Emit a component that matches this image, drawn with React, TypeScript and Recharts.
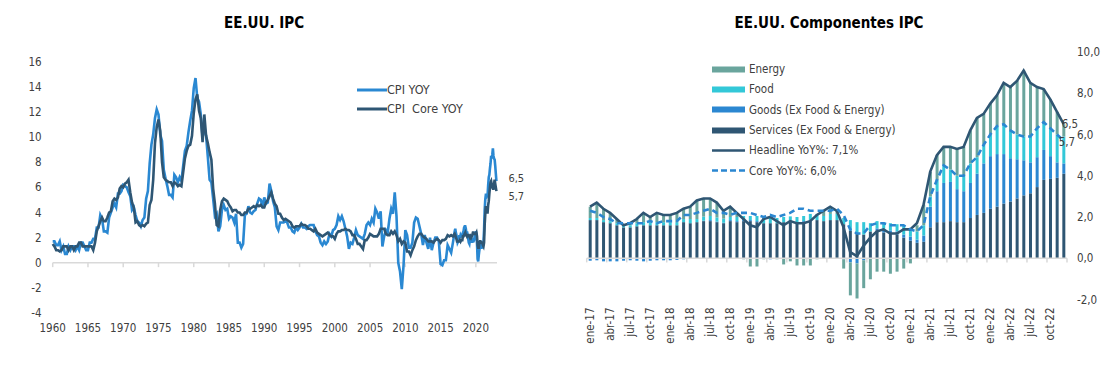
import React from "react";
import {
  ComposedChart,
  LineChart,
  Line,
  Bar,
  XAxis,
  YAxis,
  ReferenceLine,
  Legend,
  LabelList,
} from "recharts";

const FONT = '"DejaVu Sans Condensed", "DejaVu Sans", sans-serif';
const INK = "#404040";
const GRID = "#d9d9d9";

// ---- left chart: CPI YoY since 1960 (quarterly: Jan, Apr, Jul, Oct) ----
const cpiYoyQuarterly = [
  1.7, 1.7, 1.4, 1.4, 1.7, 1.0, 1.3, 0.7, 0.7, 1.3, 1.0, 1.3, 1.3, 1.0, 1.3, 1.0,
  1.6, 1.6, 1.3, 1.0, 1.0, 1.6, 1.6, 1.9, 1.9, 2.8, 2.8, 3.8, 3.5, 2.5, 2.5, 2.4,
  3.6, 4.0, 4.4, 4.7, 4.4, 5.5, 5.5, 5.7, 6.2, 6.1, 6.0, 5.6, 5.3, 4.2, 4.4, 3.8,
  3.3, 3.2, 2.9, 3.4, 3.6, 5.1, 5.7, 7.9, 9.4, 10.2, 11.5, 12.2, 11.8, 10.2, 9.7, 7.4,
  6.7, 6.1, 5.4, 5.4, 5.2, 7.0, 6.8, 6.4, 6.8, 6.5, 7.7, 8.9, 9.3, 10.4, 11.3, 12.1,
  13.9, 14.7, 13.1, 12.8, 11.8, 10.0, 10.8, 10.1, 8.4, 6.6, 6.4, 5.1, 3.7, 3.9, 2.5, 2.9,
  4.2, 4.6, 4.2, 4.3, 3.5, 3.7, 3.6, 3.2, 3.9, 1.6, 1.6, 1.2, 1.5, 3.8, 3.9, 4.5,
  4.0, 3.9, 4.1, 4.2, 4.7, 5.1, 5.0, 4.5, 5.2, 4.7, 4.8, 6.3, 5.7, 4.9, 4.4, 2.9,
  2.6, 3.2, 3.2, 3.2, 3.3, 3.2, 2.8, 2.8, 2.5, 2.4, 2.8, 2.6, 2.8, 3.1, 2.8, 2.8,
  2.7, 2.9, 3.0, 3.0, 3.0, 2.5, 2.2, 2.1, 1.6, 1.4, 1.7, 1.5, 1.7, 2.3, 2.1, 2.6,
  2.7, 3.0, 3.7, 3.4, 3.7, 3.3, 2.7, 2.1, 1.1, 1.6, 1.5, 2.0, 2.6, 2.2, 2.1, 2.0,
  1.9, 2.3, 3.0, 3.2, 3.0, 3.5, 3.2, 4.3, 4.0, 3.5, 4.1, 1.3, 2.1, 2.6, 2.4, 3.5,
  4.3, 3.9, 5.6, 3.7, 0.0, -0.7, -2.1, -0.2, 2.6, 2.2, 1.2, 1.2, 1.6, 3.2, 3.6, 3.5,
  2.9, 2.3, 1.4, 2.2, 1.6, 1.1, 2.0, 1.0, 1.6, 2.0, 2.0, 1.7, -0.1, -0.2, 0.2, 0.2,
  1.4, 1.1, 0.8, 1.6,
];
const coreYoyQuarterly = [
  1.5, 1.3, 1.0, 1.0, 0.9, 1.0, 1.3, 1.3, 1.3, 1.0, 1.3, 1.3, 1.0, 1.3, 1.3, 1.6,
  1.6, 1.3, 1.3, 1.3, 1.3, 1.3, 1.3, 1.0, 1.6, 2.5, 2.9, 3.3, 3.6, 3.3, 3.3, 3.6,
  4.0, 4.1, 4.9, 5.1, 5.0, 5.2, 5.9, 6.1, 6.0, 6.3, 6.4, 6.6, 5.6, 4.8, 4.4, 3.2,
  3.3, 3.0, 2.9, 3.0, 2.9, 3.1, 3.2, 4.6, 5.0, 6.6, 9.5, 10.8, 11.4, 10.5, 8.0, 6.8,
  6.6, 6.5, 6.4, 6.4, 6.1, 6.4, 6.3, 6.1, 6.2, 6.1, 7.2, 8.3, 8.9, 9.3, 9.4, 10.1,
  11.9, 13.0, 13.4, 12.1, 11.5, 9.6, 11.8, 10.1, 9.5, 8.8, 8.2, 5.9, 4.7, 3.0, 2.9, 4.2,
  4.9, 5.1, 5.0, 4.9, 4.6, 4.4, 4.1, 4.2, 4.2, 4.0, 4.0, 3.8, 3.8, 4.0, 4.0, 4.3,
  4.3, 4.4, 4.5, 4.4, 4.6, 4.5, 4.6, 4.4, 4.4, 4.8, 5.0, 5.3, 5.6, 5.1, 4.7, 4.5,
  3.9, 3.9, 3.6, 3.4, 3.5, 3.4, 3.3, 3.2, 2.9, 2.8, 2.9, 2.9, 2.9, 3.1, 3.0, 3.0,
  2.9, 2.7, 2.7, 2.6, 2.5, 2.7, 2.4, 2.3, 2.2, 2.1, 2.2, 2.3, 2.4, 2.2, 2.1, 2.1,
  1.9, 2.3, 2.5, 2.5, 2.6, 2.6, 2.7, 2.6, 2.6, 2.5, 2.2, 2.2, 1.9, 1.5, 1.5, 1.3,
  1.1, 1.8, 1.8, 2.0, 2.3, 2.2, 2.1, 2.1, 2.1, 2.3, 2.7, 2.7, 2.7, 2.3, 2.2, 2.2,
  2.5, 2.3, 2.5, 2.2, 1.7, 1.9, 1.5, 1.7, 1.6, 0.9, 0.9, 0.6, 1.0, 1.3, 1.8, 2.1,
  2.3, 2.3, 2.1, 2.0, 1.9, 1.7, 1.7, 1.7, 1.6, 1.8, 1.9, 1.8, 1.6, 1.8, 1.8, 1.9,
  2.2, 2.1, 2.2, 2.1,
];
const yearTicks = [1960, 1965, 1970, 1975, 1980, 1985, 1990, 1995, 2000, 2005, 2010, 2015, 2020];
const leftYTicks = [-4, -2, 0, 2, 4, 6, 8, 10, 12, 14, 16];

// ---- right chart: monthly, ene-17 .. dic-22 ----
const monthNames = ["ene", "feb", "mar", "abr", "may", "jun", "jul", "ago", "sep", "oct", "nov", "dic"];
const yearSuffix = ["17", "18", "19", "20", "21", "22"];

const headlineYoy = [
  2.5, 2.7, 2.4, 2.2, 1.9, 1.6, 1.7, 1.9, 2.2, 2.0, 2.2, 2.1,
  2.1, 2.2, 2.4, 2.5, 2.8, 2.9, 2.9, 2.7, 2.3, 2.5, 2.2, 1.9,
  1.6, 1.5, 1.9, 2.0, 1.8, 1.6, 1.8, 1.7, 1.7, 1.8, 2.1, 2.3,
  2.5, 2.3, 1.5, 0.3, 0.1, 0.6, 1.0, 1.3, 1.4, 1.2, 1.2, 1.4,
  1.4, 1.7, 2.6, 4.2, 5.0, 5.4, 5.4, 5.3, 5.4, 6.2, 6.8, 7.0,
  7.5, 7.9, 8.5, 8.3, 8.6, 9.1, 8.5, 8.3, 8.2, 7.7, 7.1, 6.5,
];
const coreYoy = [
  2.3, 2.2, 2.0, 1.9, 1.7, 1.7, 1.7, 1.7, 1.7, 1.8, 1.7, 1.8,
  1.8, 1.8, 2.1, 2.1, 2.2, 2.3, 2.4, 2.2, 2.2, 2.1, 2.2, 2.2,
  2.2, 2.1, 2.0, 2.1, 2.0, 2.1, 2.2, 2.4, 2.4, 2.3, 2.3, 2.3,
  2.3, 2.4, 2.1, 1.4, 1.2, 1.2, 1.6, 1.7, 1.7, 1.6, 1.6, 1.6,
  1.4, 1.3, 1.6, 3.0, 3.8, 4.5, 4.3, 4.0, 4.0, 4.6, 4.9, 5.5,
  6.0, 6.4, 6.5, 6.2, 6.0, 5.9, 5.9, 6.3, 6.6, 6.3, 6.0, 5.7,
];
const servicesContrib = [
  1.85, 1.85, 1.75, 1.7, 1.6, 1.5, 1.5, 1.55, 1.6, 1.6, 1.6, 1.6,
  1.6, 1.6, 1.75, 1.7, 1.75, 1.8, 1.8, 1.75, 1.7, 1.8, 1.75, 1.8,
  1.8, 1.75, 1.7, 1.7, 1.7, 1.75, 1.75, 1.7, 1.75, 1.8, 1.85, 1.8,
  1.85, 1.85, 1.65, 1.35, 1.2, 1.15, 1.3, 1.35, 1.25, 1.2, 1.15, 1.0,
  0.85, 0.75, 0.8, 1.5, 1.75, 1.75, 1.8, 1.75, 1.75, 1.95, 2.1, 2.2,
  2.4, 2.5, 2.65, 2.75, 2.9, 3.05, 3.15, 3.45, 3.8, 3.85, 3.9, 4.1,
];
const goodsContrib = [
  -0.12, -0.1, -0.15, -0.15, -0.15, -0.12, -0.1, -0.12, -0.15, -0.12, -0.1, -0.1,
  -0.1, -0.08, -0.05, -0.02, 0.0, 0.02, 0.05, 0.03, 0.02, 0.05, 0.05, 0.05,
  0.05, 0.05, 0.0, -0.05, 0.0, 0.0, 0.03, 0.05, 0.05, 0.05, 0.0, -0.02,
  -0.03, -0.02, -0.05, -0.2, -0.25, -0.1, -0.02, 0.1, 0.15, 0.15, 0.15, 0.15,
  0.2, 0.15, 0.3, 1.0, 1.5, 1.9, 1.9, 1.6, 1.5, 1.7, 2.0, 2.4,
  2.55, 2.55, 2.4, 2.1, 1.9, 1.7, 1.5, 1.45, 1.45, 1.1, 0.75, 0.5,
];
const foodContrib = [
  0.1, 0.1, 0.1, 0.1, 0.1, 0.1, 0.1, 0.15, 0.15, 0.15, 0.15, 0.15,
  0.15, 0.15, 0.15, 0.2, 0.15, 0.2, 0.2, 0.2, 0.2, 0.15, 0.2, 0.2,
  0.2, 0.25, 0.25, 0.25, 0.25, 0.25, 0.25, 0.25, 0.25, 0.3, 0.3, 0.25,
  0.3, 0.3, 0.3, 0.5, 0.55, 0.6, 0.4, 0.35, 0.35, 0.35, 0.35, 0.45,
  0.35, 0.4, 0.5, 0.5, 0.55, 0.85, 0.6, 0.65, 0.75, 0.95, 0.8, 0.9,
  1.05, 1.35, 1.45, 1.35, 1.2, 1.15, 1.25, 1.4, 1.35, 1.35, 1.35, 1.3,
];
const energyContrib = [
  0.55, 0.75, 0.55, 0.4, 0.2, 0.05, 0.1, 0.2, 0.45, 0.25, 0.45, 0.35,
  0.35, 0.45, 0.5, 0.6, 0.9, 0.9, 0.85, 0.7, 0.4, 0.5, 0.2, -0.05,
  -0.4, -0.4, -0.05, 0.1, -0.05, -0.3, -0.15, -0.35, -0.35, -0.35, -0.05, 0.25,
  0.35, 0.15, -0.45, -1.6, -1.7, -1.35, -1.0, -0.65, -0.65, -0.75, -0.65, -0.5,
  -0.25, 0.3, 1.0, 1.2, 1.2, 0.9, 1.1, 1.3, 1.4, 1.6, 1.9, 1.5,
  1.5, 1.5, 2.0, 2.1, 2.6, 3.2, 2.6, 2.0, 1.6, 1.4, 1.1, 0.6,
];
const monthTickIdx = [0, 3, 6, 9, 12, 15, 18, 21, 24, 27, 30, 33, 36, 39, 42, 45, 48, 51, 54, 57, 60, 63, 66, 69];
const rightYTicks = [-2, 0, 2, 4, 6, 8, 10];

const monthLabels = yearSuffix.flatMap((yy) => monthNames.map((m) => `${m}-${yy}`));

const longData = [
  ...cpiYoyQuarterly.map((v, k) => ({ x: 1960 + k / 4, cpi: v, core: coreYoyQuarterly[k] })),
  ...headlineYoy.map((v, m) => ({ x: 2017 + m / 12, cpi: v, core: coreYoy[m] })),
];

const compData = headlineYoy.map((v, i) => ({
  i,
  services: servicesContrib[i],
  goods: goodsContrib[i],
  food: foodContrib[i],
  energy: energyContrib[i],
  headline: v,
  core: coreYoy[i],
}));

const C = {
  cpi: "#2a88d2",
  coreDark: "#2e5674",
  energy: "#6aa59d",
  food: "#33c8d8",
  goods: "#2b87d1",
  services: "#2f5673",
};

const leftLegend = [
  { name: "CPI YOY", color: C.cpi },
  { name: "CPI  Core YOY", color: C.coreDark },
];
const rightLegend = [
  { name: "Energy", color: C.energy, kind: "rect" },
  { name: "Food", color: C.food, kind: "rect" },
  { name: "Goods (Ex Food & Energy)", color: C.goods, kind: "rect" },
  { name: "Services (Ex Food & Energy)", color: C.services, kind: "rect" },
  { name: "Headline YoY%: 7,1%", color: C.services, kind: "line" },
  { name: "Core YoY%: 6,0%", color: C.goods, kind: "dash" },
];

const comma = (v: number) => v.toFixed(1).replace(".", ",");

const endLabel = (total: number, dx: number, dy: number, size = 11.5) => (props: any) => {
  const { x, y, value, index } = props;
  if (index !== total - 1) return null;
  return (
    <text x={x + dx} y={y + dy} fill={INK} fontSize={size} fontFamily={FONT}>
      {comma(Number(value))}
    </text>
  );
};

const MonthTick = (props: any) => {
  const { x, y, payload } = props;
  return (
    <g transform={`translate(${x},${y})`}>
      <text transform="rotate(-90)" textAnchor="end" dy="0.35em" fill={INK} fontSize={11.5} fontFamily={FONT}>
        {monthLabels[payload.value]}
      </text>
    </g>
  );
};

function LeftLegendBox() {
  return (
    <div style={{ fontFamily: FONT, fontSize: 12.5, color: INK }}>
      {leftLegend.map((it) => (
        <div key={it.name} style={{ display: "flex", alignItems: "center", height: 19 }}>
          <svg width={30} height={6}>
            <line x1={0} x2={30} y1={3} y2={3} stroke={it.color} strokeWidth={3} />
          </svg>
          <span style={{ whiteSpace: "pre" }}>{it.name}</span>
        </div>
      ))}
    </div>
  );
}

function RightLegendBox() {
  return (
    <div style={{ fontFamily: FONT, fontSize: 11.5, color: INK }}>
      {rightLegend.map((it) => (
        <div key={it.name} style={{ display: "flex", alignItems: "center", height: 20.3 }}>
          <svg width={37} height={7}>
            {it.kind === "rect" ? (
              <rect x={0} y={0.5} width={33} height={6} fill={it.color} />
            ) : (
              <line
                x1={0}
                x2={33}
                y1={3.5}
                y2={3.5}
                stroke={it.color}
                strokeWidth={2.5}
                strokeDasharray={it.kind === "dash" ? "6 3" : undefined}
              />
            )}
          </svg>
          <span>{it.name}</span>
        </div>
      ))}
    </div>
  );
}

const titleStyle: React.CSSProperties = {
  position: "absolute",
  top: 14,
  fontFamily: FONT,
  fontWeight: "bold",
  fontSize: 15,
  color: "#000",
  whiteSpace: "nowrap",
  transform: "translateX(-50%)",
};

export default function App() {
  const boundaries = [...monthTickIdx.map((i) => i - 0.5), 71.5];
  return (
    <div style={{ position: "absolute", left: 0, top: 0, width: 1109, height: 367, background: "#fff" }}>
      <div style={{ ...titleStyle, left: 264 }}>EE.UU. IPC</div>
      <div style={{ ...titleStyle, left: 829 }}>EE.UU. Componentes IPC</div>

      <div style={{ position: "absolute", left: 0, top: 0 }}>
        <LineChart width={540} height={367} data={longData} margin={{ top: 61.7, right: 43, bottom: 24, left: 0 }}>
          <XAxis
            dataKey="x"
            type="number"
            domain={[1960, 2023]}
            ticks={yearTicks}
            interval={0}
            axisLine={false}
            tickLine={false}
            tickMargin={5}
            height={30}
            tick={{ fontSize: 11.5, fill: INK, fontFamily: FONT }}
          />
          <YAxis
            domain={[-4, 16]}
            ticks={leftYTicks}
            interval={0}
            width={52.7}
            axisLine={false}
            tickLine={false}
            tickMargin={5}
            tick={{ fontSize: 11.5, fill: INK, fontFamily: FONT }}
          />
          <ReferenceLine y={0} stroke={GRID} strokeWidth={1.5} />
          {yearTicks.map((yr) => (
            <ReferenceLine
              key={yr}
              segment={[{ x: yr, y: 0 }, { x: yr, y: -0.35 }]}
              stroke={GRID}
              strokeWidth={1.5}
              ifOverflow="visible"
            />
          ))}
          <Line dataKey="cpi" stroke={C.cpi} strokeWidth={2.6} dot={false} isAnimationActive={false}>
            <LabelList dataKey="cpi" content={endLabel(longData.length, 12, 1, 11)} />
          </Line>
          <Line dataKey="core" stroke={C.coreDark} strokeWidth={2.6} dot={false} isAnimationActive={false}>
            <LabelList dataKey="core" content={endLabel(longData.length, 12, 9, 11)} />
          </Line>
          <Legend
            layout="vertical"
            align="center"
            verticalAlign="middle"
            content={<LeftLegendBox />}
            wrapperStyle={{ left: 357, top: 80, width: "auto" }}
          />
        </LineChart>
      </div>

      <div style={{ position: "absolute", left: 560, top: 0 }}>
        <ComposedChart
          width={549}
          height={367}
          data={compData}
          stackOffset="sign"
          margin={{ top: 52, right: 2, bottom: 17.5, left: 26.7 }}
        >
          <XAxis
            dataKey="i"
            type="number"
            domain={[-0.5, 71.5]}
            ticks={monthTickIdx}
            interval={0}
            axisLine={false}
            tickLine={false}
            height={50}
            tick={<MonthTick />}
          />
          <YAxis
            orientation="right"
            domain={[-2, 10]}
            ticks={rightYTicks}
            interval={0}
            width={40}
            axisLine={false}
            tickLine={false}
            tickMargin={4}
            tickFormatter={(v: number) => comma(v)}
            tick={{ fontSize: 11.5, fill: INK, fontFamily: FONT }}
          />
          <ReferenceLine y={0} stroke={GRID} strokeWidth={1.5} />
          {boundaries.map((b) => (
            <ReferenceLine
              key={b}
              segment={[{ x: b, y: 0 }, { x: b, y: -0.2 }]}
              stroke={GRID}
              strokeWidth={1.5}
              ifOverflow="visible"
            />
          ))}
          <Bar dataKey="services" stackId="c" fill={C.services} barSize={3} isAnimationActive={false} />
          <Bar dataKey="goods" stackId="c" fill={C.goods} barSize={3} isAnimationActive={false} />
          <Bar dataKey="food" stackId="c" fill={C.food} barSize={3} isAnimationActive={false} />
          <Bar dataKey="energy" stackId="c" fill={C.energy} barSize={3} isAnimationActive={false} />
          <Line dataKey="headline" stroke={C.services} strokeWidth={2.6} dot={false} isAnimationActive={false}>
            <LabelList dataKey="headline" content={endLabel(compData.length, -2, 4)} />
          </Line>
          <Line
            dataKey="core"
            stroke={C.goods}
            strokeWidth={2.6}
            strokeDasharray="6 4"
            dot={false}
            isAnimationActive={false}
          >
            <LabelList dataKey="core" content={endLabel(compData.length, -5, 5)} />
          </Line>
          <Legend
            layout="vertical"
            align="center"
            verticalAlign="middle"
            content={<RightLegendBox />}
            wrapperStyle={{ left: 152, top: 59, width: "auto" }}
          />
        </ComposedChart>
      </div>
    </div>
  );
}
